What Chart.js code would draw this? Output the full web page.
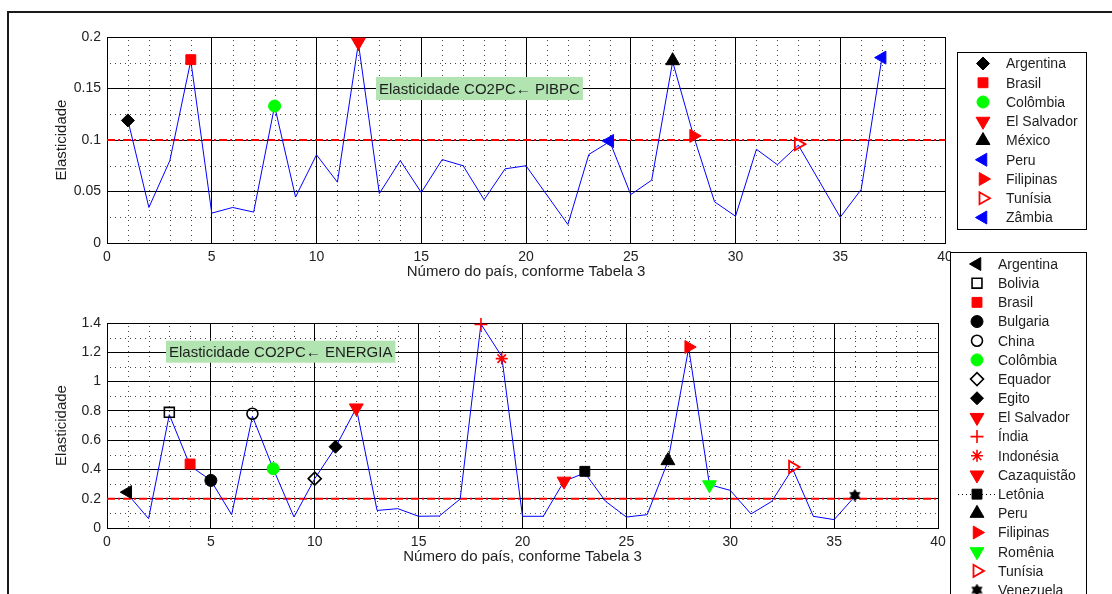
<!DOCTYPE html>
<html><head><meta charset="utf-8">
<script src="https://cdn.jsdelivr.net/npm/chart.js@4.4.1/dist/chart.umd.min.js"></script>
<style>
html,body{margin:0;padding:0;background:#fff;width:1112px;height:594px;overflow:hidden;position:relative;}
#frame{position:absolute;left:7px;top:11px;width:1200px;height:700px;border-top:2px solid #1a1a1a;border-left:2px solid #1a1a1a;}
canvas{position:absolute;left:0;}
#c1{top:0px}
#c2{top:245px}
</style></head><body>
<div id="frame"></div>
<canvas id="c1" width="1112" height="300"></canvas>
<canvas id="c2" width="1112" height="349"></canvas>
<script>
// ---------------- DATA ----------------
const paisesTop = [1,2,3,4,5,6,7,8,9,10,11,12,13,14,15,16,17,18,19,20,21,22,23,24,25,26,27,28,29,30,31,32,33,34,35,36,37];
const elastPIBPC = [0.119,0.0345,0.080,0.177,0.029,0.0345,0.030,0.133,0.0446,0.0856,0.059,0.194,0.048,0.080,0.049,0.081,0.075,0.042,0.072,0.075,0.0465,0.018,0.086,0.0985,0.047,0.061,0.176,0.104,0.040,0.026,0.091,0.076,0.095,0.060,0.025,0.052,0.181];

const paisesBottom = [1,2,3,4,5,6,7,8,9,10,11,12,13,14,15,16,17,18,19,20,21,22,23,24,25,26,27,28,29,30,31,32,33,34,35,36];
const elastENERGIA = [0.23,0.064,0.774,0.425,0.325,0.091,0.763,0.405,0.075,0.337,0.551,0.82,0.12,0.132,0.08,0.082,0.198,1.393,1.172,0.08,0.08,0.319,0.376,0.182,0.075,0.091,0.455,1.229,0.296,0.257,0.096,0.182,0.405,0.08,0.057,0.216];

const limiarPIBPC = 0.1;
const limiarENERGIA = 0.2;

const xTicks = [0,5,10,15,20,25,30,35,40];
const xTickLabels = ['0','5','10','15','20','25','30','35','40'];
const yTicksTop = [0,0.05,0.1,0.15,0.2];
const yTickLabelsTop = ['0','0.05','0.1','0.15','0.2'];
const yTicksBottom = [0,0.2,0.4,0.6,0.8,1,1.2,1.4];
const yTickLabelsBottom = ['0','0.2','0.4','0.6','0.8','1','1.2','1.4'];

const destaquesTopNomes = ['Argentina','Brasil','Colômbia','El Salvador','México','Peru','Filipinas','Tunísia','Zâmbia'];
const destaquesTopX = [1,4,8,12,27,24,28,33,37];
const destaquesTopY = [0.119,0.178,0.133,0.195,0.177,0.099,0.104,0.096,0.180];

const destaquesBottomNomes = ['Argentina','Bolivia','Brasil','Bulgaria','China','Colômbia','Equador','Egito','El Salvador','Índia','Indonésia','Cazaquistão','Letônia','Peru','Filipinas','Romênia','Tunísia','Venezuela'];
const destaquesBottomX = [1,3,4,5,7,8,10,11,12,18,19,22,23,27,28,29,33,36];
const destaquesBottomY = [0.245,0.79,0.437,0.325,0.78,0.405,0.337,0.555,0.82,1.39,1.157,0.32,0.387,0.46,1.236,0.295,0.417,0.223];

// ---------------- STYLES ----------------
const FONT = "'Liberation Sans', Arial, Helvetica, sans-serif";
const TXT = '#1e1e1e';

function hexagrama(size, color) {
  const c = document.createElement('canvas'); c.width = c.height = size;
  const g = c.getContext('2d'); const r = size/2;
  g.fillStyle = color;
  [0, Math.PI].forEach(off => {
    g.beginPath();
    for (let k = 0; k < 3; k++) {
      const a = off + k*2*Math.PI/3 - Math.PI/2;
      const px = r + r*Math.cos(a), py = r + r*Math.sin(a);
      if (k) g.lineTo(px, py); else g.moveTo(px, py);
    }
    g.closePath(); g.fill();
  });
  return c;
}
const estrela = hexagrama(13, '#000');

function M(pointStyle, color, filled, r, rot, bw) {
  return {pointStyle, color, filled, r, rot: rot || 0, bw: bw == null ? 1 : bw};
}
const estilosTop = [
  M('rectRot','#000',true,6.5),
  M('rect','#ff0000',true,7),
  M('circle','#00ff00',true,6),
  M('triangle','#ff0000',true,8,180),
  M('triangle','#000',true,8,0),
  M('triangle','#0000ff',true,7.5,-90),
  M('triangle','#ff0000',true,7.5,90),
  M('triangle','#ff0000',false,7,90,1.8),
  M('triangle','#0000ff',true,7.5,-90)
];
const estilosBottom = [
  M('triangle','#000',true,7.5,-90),
  M('rect','#000',false,7,0,1.6),
  M('rect','#ff0000',true,7),
  M('circle','#000',true,6),
  M('circle','#000',false,5.5,0,1.6),
  M('circle','#00ff00',true,6),
  M('rectRot','#000',false,6.5,0,1.6),
  M('rectRot','#000',true,6.5),
  M('triangle','#ff0000',true,8,180),
  M('cross','#ff0000',false,6.5,0,1.6),
  M('star','#ff0000',false,6,0,1.6),
  M('triangle','#ff0000',true,8,180),
  M('rect','#000',true,7),
  M('triangle','#000',true,8,0),
  M('triangle','#ff0000',true,7.5,90),
  M('triangle','#00ff00',true,8,180),
  M('triangle','#ff0000',false,7,90,1.8),
  M(estrela,'#000',true,6.5)
];

function destaqueDatasets(nomes, xs, ys, estilos, linhaIdx) {
  return nomes.map((n, i) => {
    const s = estilos[i];
    return {
      label: n,
      data: [{x: xs[i], y: ys[i]}],
      showLine: false,
      clip: false,
      pointStyle: s.pointStyle,
      pointRadius: s.r,
      pointHoverRadius: s.r,
      pointRotation: s.rot,
      pointBackgroundColor: s.filled ? s.color : 'rgba(0,0,0,0)',
      pointBorderColor: s.color,
      pointBorderWidth: s.bw,
      legenda: true,
      legendaLinha: i === linhaIdx,
      order: 0
    };
  });
}

// ---------------- PLUGINS ----------------
const gradeMenor = {
  id: 'gradeMenor',
  beforeDatasetsDraw(chart, args, opts) {
    const {ctx, chartArea: a, scales: {x, y}} = chart;
    ctx.save();
    ctx.strokeStyle = opts.color; ctx.lineWidth = 1; ctx.setLineDash([1, 4]);
    opts.xs.forEach(v => {
      const p = Math.round(x.getPixelForValue(v)) + 0.5;
      ctx.beginPath(); ctx.moveTo(p, a.top + 3); ctx.lineTo(p, a.bottom); ctx.stroke();
    });
    opts.ys.forEach(v => {
      const p = Math.round(y.getPixelForValue(v)) + 0.5;
      ctx.beginPath(); ctx.moveTo(a.left + 3, p); ctx.lineTo(a.right, p); ctx.stroke();
    });
    ctx.restore();
  }
};

const anotacao = {
  id: 'anotacao',
  afterDatasetsDraw(chart, args, o) {
    const {ctx, scales: {x, y}} = chart;
    const px = x.getPixelForValue(o.x), py = y.getPixelForValue(o.y);
    ctx.save();
    ctx.font = o.font;
    const w = ctx.measureText(o.text).width;
    ctx.fillStyle = o.bg;
    ctx.fillRect(px, py - o.h/2, w + 2*o.pad, o.h);
    ctx.fillStyle = TXT; ctx.textBaseline = 'middle'; ctx.textAlign = 'left';
    ctx.fillText(o.text, px + o.pad, py + 1);
    ctx.restore();
  }
};

const legendaCaixa = {
  id: 'legendaCaixa',
  afterDraw(chart, args, o) {
    const ctx = chart.ctx;
    ctx.save();
    ctx.fillStyle = '#fff'; ctx.fillRect(o.x, o.y, o.w, o.h);
    ctx.strokeStyle = '#000'; ctx.lineWidth = 1; ctx.setLineDash([]);
    ctx.strokeRect(o.x + 0.5, o.y + 0.5, o.w, o.h);
    const ds = chart.data.datasets.filter(d => d.legenda);
    ds.forEach((d, i) => {
      const cy = o.y0 + i * o.dy;
      if (d.legendaLinha) {
        ctx.save(); ctx.strokeStyle = '#000'; ctx.lineWidth = 1; ctx.setLineDash([1, 3]);
        ctx.beginPath(); ctx.moveTo(o.mx - 19, Math.round(cy) + 0.5); ctx.lineTo(o.mx + 20, Math.round(cy) + 0.5); ctx.stroke();
        ctx.restore();
      }
      ctx.save();
      ctx.fillStyle = d.pointBackgroundColor; ctx.strokeStyle = d.pointBorderColor; ctx.lineWidth = d.pointBorderWidth;
      ctx.setLineDash([]);
      Chart.helpers.drawPoint(ctx, {pointStyle: d.pointStyle, rotation: d.pointRotation, radius: d.pointRadius, borderWidth: d.pointBorderWidth}, o.mx, cy);
      ctx.restore();
      ctx.fillStyle = TXT; ctx.font = '14px ' + FONT; ctx.textBaseline = 'middle'; ctx.textAlign = 'left';
      ctx.fillText(d.label, o.tx, cy + 1);
    });
    ctx.restore();
  }
};

// ---------------- CHART BUILDER ----------------
function construir(canvasId, cfg) {
  const linhaPrincipal = {
    label: 'serie',
    data: cfg.xs.map((v, i) => ({x: v, y: cfg.ys[i]})),
    showLine: true, borderColor: '#0000ff', borderWidth: 1, pointRadius: 0, pointHoverRadius: 0,
    fill: false, tension: 0, order: 2
  };
  const limiar = {
    label: 'limiar',
    data: [{x: xTicks[0], y: cfg.limiar}, {x: xTicks[xTicks.length - 1], y: cfg.limiar}],
    showLine: true, borderColor: '#ff0000', borderWidth: 2, borderDash: [8, 3, 2, 3],
    pointRadius: 0, pointHoverRadius: 0, fill: false, order: 3
  };
  const destaques = destaqueDatasets(cfg.nomes, cfg.dx, cfg.dy, cfg.estilos, cfg.linhaIdx);
  return new Chart(document.getElementById(canvasId), {
    type: 'scatter',
    data: {datasets: [limiar, linhaPrincipal, ...destaques]},
    options: {
      responsive: false, animation: false, devicePixelRatio: 1, events: [],
      layout: {padding: cfg.padding},
      plugins: {
        legend: {display: false}, tooltip: {enabled: false},
        gradeMenor: {color: '#444', xs: cfg.minorX, ys: cfg.minorY},
        anotacao: cfg.anotacao,
        legendaCaixa: cfg.legenda
      },
      scales: {
        x: {
          type: 'linear', min: xTicks[0], max: xTicks[xTicks.length - 1],
          afterBuildTicks: s => { s.ticks = xTicks.map(v => ({value: v})); },
          afterFit: s => { s.height = 45; },
          grid: {color: '#000', lineWidth: 1, drawTicks: false},
          border: {color: '#000', width: 1},
          ticks: {color: '#222', font: {family: FONT, size: 14}, padding: 6, maxRotation: 0, autoSkip: false,
                  callback: (v, i) => xTickLabels[i]},
          title: {display: true, text: 'Número do país, conforme Tabela 3', color: TXT, font: {family: FONT, size: 15}, padding: {top: 0, bottom: 7}}
        },
        y: {
          type: 'linear', min: cfg.yTicks[0], max: cfg.yTicks[cfg.yTicks.length - 1],
          afterBuildTicks: s => { s.ticks = cfg.yTicks.map(v => ({value: v})); },
          afterFit: s => { s.width = 107; },
          grid: {color: '#000', lineWidth: 1, drawTicks: false},
          border: {color: '#000', width: 1},
          ticks: {color: '#222', font: {family: FONT, size: 14}, padding: 6, autoSkip: false,
                  callback: (v, i) => cfg.yLabels[i]},
          title: {display: true, text: 'Elasticidade', color: TXT, font: {family: FONT, size: 15}, padding: {top: 53, bottom: 0}}
        }
      }
    },
    plugins: [gradeMenor, anotacao, legendaCaixa]
  });
}

const minorX = [];
for (let v = 1; v < 40; v++) if (v % 5 !== 0) minorX.push(v);

construir('c1', {
  xs: paisesTop, ys: elastPIBPC, limiar: limiarPIBPC, yTicks: yTicksTop, yLabels: yTickLabelsTop,
  nomes: destaquesTopNomes, dx: destaquesTopX, dy: destaquesTopY, estilos: estilosTop, linhaIdx: -1,
  padding: {left: 0, right: 167, top: 37, bottom: 12},
  minorX: minorX, minorY: [0.025, 0.075, 0.125, 0.175],
  anotacao: {x: 12.84, y: 0.150, text: 'Elasticidade CO2PC\u2190 PIBPC', font: '15px ' + FONT, bg: 'rgb(178,228,178)', pad: 3, h: 23},
  legenda: {x: 957, y: 52, w: 129, h: 177, y0: 63.5, dy: 19.25, mx: 983, tx: 1006}
});

construir('c2', {
  xs: paisesBottom, ys: elastENERGIA, limiar: limiarENERGIA, yTicks: yTicksBottom, yLabels: yTickLabelsBottom,
  nomes: destaquesBottomNomes, dx: destaquesBottomX, dy: destaquesBottomY, estilos: estilosBottom, linhaIdx: 12,
  padding: {left: 0, right: 174, top: 78, bottom: 21},
  minorX: minorX, minorY: [0.1, 0.3, 0.5, 0.7, 0.9, 1.1, 1.3],
  anotacao: {x: 2.84, y: 1.204, text: 'Elasticidade CO2PC\u2190 ENERGIA', font: '15px ' + FONT, bg: 'rgb(178,228,178)', pad: 3, h: 22},
  legenda: {x: 950, y: 7, w: 136, h: 400, y0: 19, dy: 19.18, mx: 977, tx: 998}
});
</script>
</body></html>
